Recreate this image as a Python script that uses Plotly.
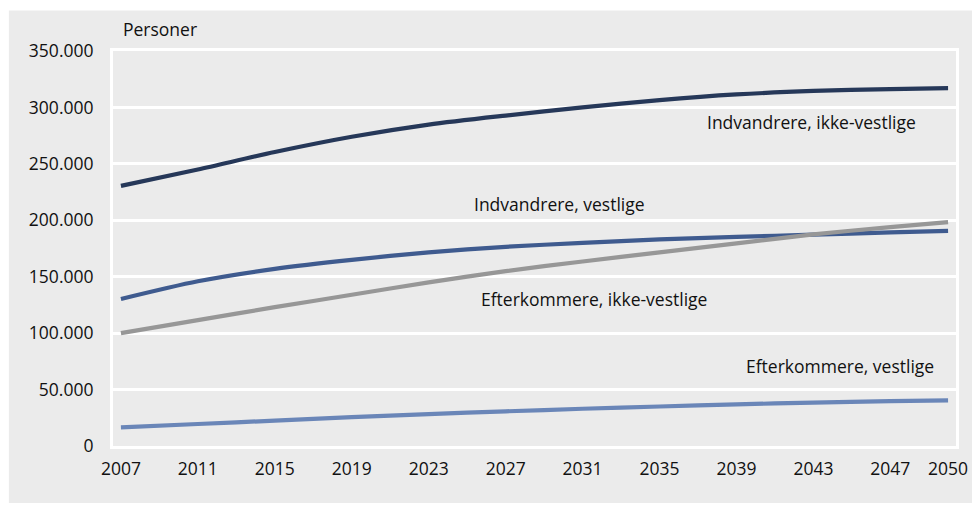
import plotly.graph_objects as go

years = [2007, 2011, 2015, 2019, 2023, 2027, 2031, 2035, 2039, 2043, 2047, 2050]

indv_ikke_vestlige = [230500, 245000, 260500, 274000, 284800, 292800, 300000, 306500, 311500, 314600, 316300, 317100]
indv_vestlige = [130300, 146000, 157000, 165000, 171500, 176500, 180000, 183000, 185300, 187300, 189200, 190600]
efterk_ikke_vestlige = [100000, 111500, 123000, 134000, 145000, 155000, 163500, 171500, 179500, 187500, 194000, 198300]
efterk_vestlige = [16500, 19500, 22500, 25500, 28300, 30700, 33000, 35000, 36900, 38500, 39800, 40500]

series_names = ["Indvandrere, ikke-vestlige", "Indvandrere, vestlige",
                "Efterkommere, ikke-vestlige", "Efterkommere, vestlige"]
series_values = [indv_ikke_vestlige, indv_vestlige, efterk_ikke_vestlige, efterk_vestlige]
colors = ["#263859", "#3f5b8f", "#979797", "#6a86b8"]

y_tickvals = [0, 50000, 100000, 150000, 200000, 250000, 300000, 350000]
y_ticktext = ["0", "50.000", "100.000", "150.000", "200.000", "250.000", "300.000", "350.000"]
x_tickvals = [2007, 2011, 2015, 2019, 2023, 2027, 2031, 2035, 2039, 2043, 2047, 2050]

label_pos = [(2042.9, 287500), (2029.8, 214500), (2031.6, 130000), (2044.4, 70900)]

FONT = "Open Sans"
FS = 17.5

fig = go.Figure()
for name, vals, col in zip(series_names, series_values, colors):
    fig.add_trace(go.Scatter(x=years, y=vals, mode="lines", name=name,
                             line=dict(color=col, width=4.2, shape="spline", smoothing=0.8),
                             hoverinfo="x+y"))

for name, (lx, ly) in zip(series_names, label_pos):
    fig.add_annotation(x=lx, y=ly, xref="x", yref="y", text=name, showarrow=False,
                       xanchor="center", yanchor="middle",
                       font=dict(family=FONT, size=FS, color="#111111"))

# The page body keeps its default 8px margin; the figure fits the 980x511 window exactly.
OFF = 8
W, H = 972, 495
L, R, T, B = 105, 17, 43, 57
pw, ph = W - L - R, H - T - B

def px_to_paper_x(px):
    return (px - OFF - L) / pw

def px_to_paper_y(py):
    return (H - B - (py - OFF)) / ph

fig.add_annotation(x=px_to_paper_x(121), y=px_to_paper_y(29), xref="paper", yref="paper",
                   text="Personer", showarrow=False, xanchor="left", yanchor="middle",
                   font=dict(family=FONT, size=FS, color="#111111"))

fig.add_shape(type="rect", xref="paper", yref="paper",
              x0=px_to_paper_x(8), x1=px_to_paper_x(1000),
              y0=px_to_paper_y(530), y1=px_to_paper_y(10.5),
              fillcolor="#ebebeb", line=dict(width=0), layer="below")

fig.update_layout(
    width=W, height=H,
    margin=dict(l=L, r=R, t=T, b=B, pad=0),
    paper_bgcolor="white",
    plot_bgcolor="#dcdcdc",
    showlegend=False,
    font=dict(family=FONT, size=FS, color="#111111"),
)
fig.update_xaxes(range=[2006.588, 2050.412], tickvals=x_tickvals,
                 ticktext=[str(v) for v in x_tickvals],
                 showgrid=False, zeroline=False,
                 showline=True, linecolor="white", linewidth=3, mirror=True,
                 ticks="outside", ticklen=5, tickcolor="rgba(0,0,0,0)",
                 tickfont=dict(family=FONT, size=FS, color="#111111"))
fig.update_yaxes(range=[0, 350000], tickvals=y_tickvals, ticktext=y_ticktext,
                 showgrid=True, gridcolor="white", gridwidth=2.5, zeroline=False,
                 showline=True, linecolor="white", linewidth=3, mirror=True,
                 ticks="outside", ticklen=13, tickcolor="rgba(0,0,0,0)",
                 tickfont=dict(family=FONT, size=FS, color="#111111"))

fig.write_html("out.html", config={"displayModeBar": False})
